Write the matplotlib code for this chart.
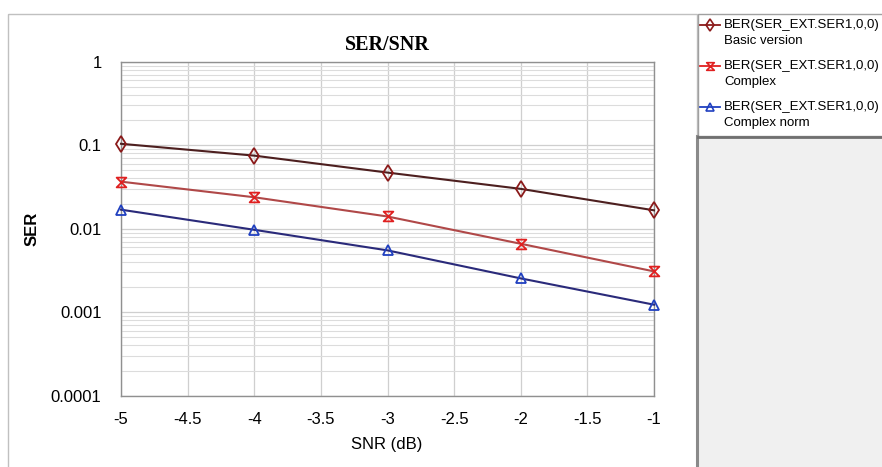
import numpy as np
import matplotlib
matplotlib.use("Agg")
import matplotlib.pyplot as plt
from matplotlib.path import Path
from matplotlib.patches import Rectangle
from matplotlib.ticker import LogLocator, NullFormatter, FixedLocator

plt.rcParams['font.family'] = ['Liberation Sans', 'DejaVu Sans']

snr = [-5, -4, -3, -2, -1]
ser_basic = [0.104, 0.075, 0.047, 0.030, 0.0166]
ser_complex = [0.0366, 0.0238, 0.0140, 0.0066, 0.00308]
ser_norm = [0.0169, 0.0097, 0.0055, 0.00254, 0.00123]

series_names = ["BER(SER_EXT.SER1,0,0)"] * 3
series_subs = ["Basic version", "Complex", "Complex norm"]
xticks = [-5, -4.5, -4, -3.5, -3, -2.5, -2, -1.5, -1]
yticks = [1e-4, 1e-3, 1e-2, 1e-1, 1]
ytick_labels = ["0.0001", "0.001", "0.01", "0.1", "1"]

# hourglass marker
hourglass = Path([(-1, 1), (1, 1), (-1, -1), (1, -1), (-1, 1)],
                 [Path.MOVETO, Path.LINETO, Path.LINETO, Path.LINETO, Path.CLOSEPOLY])

styles = [
    dict(color='#4d1f1f', mec='#8b1a1a', marker='d', ms=8),
    dict(color='#b04848', mec='#e02020', marker=hourglass, ms=7),
    dict(color='#2a2a7a', mec='#2040c0', marker='^', ms=7.5),
]

W, H = 882, 467
fig = plt.figure(figsize=(W / 100, H / 100), dpi=100)

# background overlay in pixel coordinates
bg = fig.add_axes([0, 0, 1, 1], zorder=0)
bg.set_xlim(0, W)
bg.set_ylim(H, 0)
bg.axis('off')
bg.add_patch(Rectangle((8, 14), 689, 460, fill=False, ec='#c0c0c0', lw=1))
bg.add_patch(Rectangle((698, 136), 190, 340, fc='#f0f0f0', ec='none'))
bg.plot([697, 697], [136, H], color='#8a8a8a', lw=2.2)
bg.add_patch(Rectangle((698, 14), 190, 122, fc='white', ec='#a0a0a0', lw=1))
bg.plot([698, W], [136.5, 136.5], color='#707070', lw=2)

bg.text(387, 45, "SER/SNR", family='Liberation Serif', fontweight='bold',
        fontsize=14.5, ha='center', va='center')
bg.text(32, 229, "SER", fontweight='bold', fontsize=12, rotation=90,
        ha='center', va='center')
bg.text(387, 445, "SNR (dB)", fontsize=12, ha='center', va='center')

ax = fig.add_axes([121 / W, 1 - 395.7 / H, 533 / W, 334 / H], zorder=1)
ax.set_yscale('log')
ax.set_xlim(-5, -1)
ax.set_ylim(1e-4, 1)

ys = [ser_basic, ser_complex, ser_norm]
for y, st in zip(ys, styles):
    ax.plot(snr, y, color=st['color'], lw=1.5, marker=st['marker'], ms=st['ms'],
            mfc='none', mec=st['mec'], mew=1.3, clip_on=False, zorder=3)

ax.xaxis.set_major_locator(FixedLocator(xticks))
ax.set_xticklabels([f"{v:g}" for v in xticks])
ax.set_yticks(yticks)
ax.set_yticklabels(ytick_labels)
ax.yaxis.set_minor_locator(LogLocator(base=10, subs=np.arange(2, 10)))
ax.yaxis.set_minor_formatter(NullFormatter())
ax.tick_params(which='both', length=0, labelsize=12)
ax.tick_params(axis='y', pad=14)
ax.tick_params(axis='x', pad=12)
ax.grid(True, which='major', color='#cfcfcf', lw=0.9)
ax.grid(True, which='minor', axis='y', color='#dcdcdc', lw=0.8)
for s in ax.spines.values():
    s.set_color('#909090')
    s.set_linewidth(1)

# legend entries
for i, (st, name, sub) in enumerate(zip(styles, series_names, series_subs)):
    y1 = 25 + 41 * i
    bg.plot([700, 720], [y1, y1], color=st['mec'], lw=1.3)
    bg.plot([710], [y1], marker=st['marker'], ms=st['ms'] - 1.5, mfc='none',
            mec=st['mec'], mew=1.2)
    bg.text(724, y1, name, fontsize=9.5, va='center', ha='left')
    bg.text(724, y1 + 16, sub, fontsize=9.5, va='center', ha='left')

fig.savefig("out.png", dpi=100)
